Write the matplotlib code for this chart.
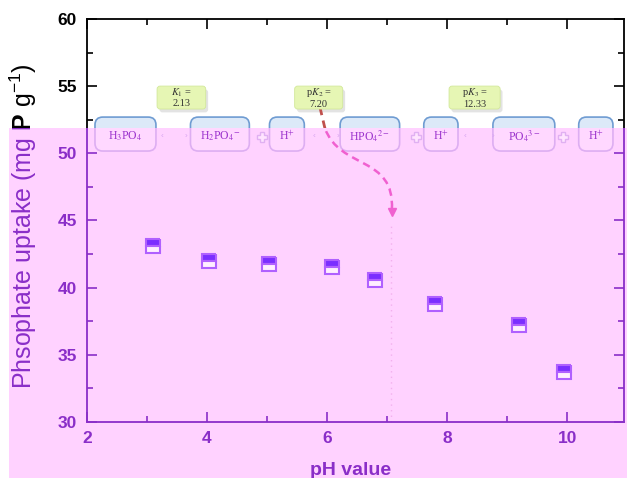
import matplotlib
matplotlib.use('Agg')
import matplotlib.pyplot as plt
from matplotlib.patches import Rectangle, FancyBboxPatch, PathPatch
from matplotlib.path import Path
from matplotlib.ticker import MultipleLocator
from matplotlib.transforms import Bbox, TransformedBbox

plt.rcParams['font.family'] = ['Liberation Sans', 'DejaVu Sans']
plt.rcParams['mathtext.fontset'] = 'custom'
plt.rcParams['mathtext.rm'] = 'Liberation Sans'
plt.rcParams['mathtext.it'] = 'Liberation Sans:italic'
plt.rcParams['mathtext.bf'] = 'Liberation Sans:bold'

# ---------------- data ----------------
ph_values = [3.10, 4.04, 5.03, 6.08, 6.80, 7.80, 9.19, 9.95]
uptake_values = [43.11, 41.95, 41.74, 41.54, 40.58, 38.79, 37.23, 33.67]
x_tick_values = [2, 4, 6, 8, 10]
y_tick_values = [30, 35, 40, 45, 50, 55, 60]
species_labels = ['H$_3$PO$_4$', 'H$_2$PO$_4$$^{-}$', 'H$^{+}$', 'HPO$_4$$^{2-}$',
                  'H$^{+}$', 'PO$_4$$^{3-}$', 'H$^{+}$']
pka_labels = ['$K_1$ =\n2.13', 'p$K_2$ =\n7.20', 'p$K_3$ =\n12.33']
x_label = 'pH value'
y_label = 'Phsophate uptake (mg $\\mathbf{P}$ g$^{-1}$)'

# ---------------- layout of annotations ----------------
species_x = [2.644, 4.216, 5.331, 6.712, 7.894, 9.275, 10.473]
species_w = [1.015, 0.98, 0.58, 0.99, 0.57, 1.03, 0.57]
box_y0, box_y1, box_text_y = 50.17, 52.70, 51.25
lt_x = [3.26, 5.78, 8.30]
gt_x = [3.65, 6.18, 8.76]
plus_x = [4.92, 7.48, 9.92]
pka_x0 = [3.17, 5.46, 8.03]
pka_x1 = [3.98, 6.26, 8.88]
pka_y0, pka_y1 = 53.30, 55.01
arrow_verts = [(5.880, 53.45), (5.963, 51.88), (6.213, 48.76), (7.128, 49.87), (7.078, 45.80)]
arrow_codes = [Path.MOVETO, Path.LINETO, Path.CURVE4, Path.CURVE4, Path.CURVE4]
guide_x = 7.07

PINK = '#FFD2FF'
PURPLE = '#8A2EC8'
ASPECT = 4.48

fig = plt.figure(figsize=(6.27, 4.78), dpi=100)
fig.patch.set_facecolor('white')
pos = [0.1384, 0.1178, 0.8576, 0.8422]


def style_axes(ax, color):
    ax.set_xlim(2, 10.95)
    ax.set_ylim(30, 60)
    ax.set_xticks(x_tick_values)
    ax.set_xticklabels([str(v) for v in x_tick_values], fontweight='bold')
    ax.set_yticks(y_tick_values)
    ax.set_yticklabels([str(v) for v in y_tick_values], fontweight='bold')
    ax.xaxis.set_minor_locator(MultipleLocator(1))
    ax.yaxis.set_minor_locator(MultipleLocator(2.5))
    ax.tick_params(which='both', direction='in', top=True, right=True,
                   color=color, labelcolor=color, width=1.2, labelsize=12.5)
    ax.tick_params(which='major', length=7)
    ax.tick_params(axis='x', which='major', pad=7)
    ax.tick_params(axis='y', which='major', pad=7)
    ax.tick_params(which='minor', length=4)
    for s in ax.spines.values():
        s.set_color(color)
        s.set_linewidth(1.3)
    ax.set_ylabel(y_label, fontsize=18, color=color)
    ax.yaxis.set_label_coords(-0.089, 0.485)
    ax.set_xlabel(x_label, fontsize=14, fontweight='bold', color=color)
    ax.xaxis.set_label_coords(0.49, -0.1)


def species_boxes(ax, face, edge, textcolor):
    for cx, w, lab in zip(species_x, species_w, species_labels):
        b = FancyBboxPatch((cx - w / 2, box_y0), w, box_y1 - box_y0,
                           boxstyle='round,pad=0,rounding_size=0.13',
                           mutation_aspect=ASPECT, fc=face, ec=edge, lw=1.2, zorder=3)
        ax.add_patch(b)
        if textcolor is not None:
            ax.text(cx, box_text_y, lab, ha='center', va='center', fontsize=8.5,
                    color=textcolor, family='Liberation Serif', math_fontfamily='stix', zorder=4)


# ---------------- layer 1: original (black) ----------------
ax1 = fig.add_axes(pos, zorder=0)
ax1.set_facecolor('white')
style_axes(ax1, 'black')
species_boxes(ax1, '#DCE9F8', '#6F9CD2', None)
for x0, x1, lab in zip(pka_x0, pka_x1, pka_labels):
    sh = FancyBboxPatch((x0 + 0.04, pka_y0 - 0.25), x1 - x0, pka_y1 - pka_y0,
                        boxstyle='round,pad=0,rounding_size=0.05', mutation_aspect=ASPECT,
                        fc='#C8C8C8', ec='none', alpha=0.5, zorder=3)
    ax1.add_patch(sh)
    gb = FancyBboxPatch((x0, pka_y0), x1 - x0, pka_y1 - pka_y0,
                        boxstyle='round,pad=0,rounding_size=0.05', mutation_aspect=ASPECT,
                        fc='#E6F6B4', ec='#D2E89A', lw=0.6, zorder=4)
    ax1.add_patch(gb)
    ax1.text((x0 + x1) / 2, (pka_y0 + pka_y1) / 2, lab, ha='center', va='center',
             fontsize=7.5, color='#333333', family='Liberation Serif',
             math_fontfamily='stix', linespacing=1.05, zorder=5)
ax1.add_patch(PathPatch(Path(arrow_verts, arrow_codes), fill=False, ec='#C0504D',
                        lw=2.0, ls=(0, (3, 2)), zorder=3))

# ---------------- pink overlay ----------------
rect_fig = [0.0144, 0.0, 0.9856, 0.7322]
overlay = Rectangle((rect_fig[0], rect_fig[1]), rect_fig[2], rect_fig[3],
                    transform=fig.transFigure, fc=PINK, ec='none', zorder=1)
fig.add_artist(overlay)

# ---------------- layer 2: recoloured (purple) ----------------
ax2 = fig.add_axes(pos, zorder=2)
ax2.patch.set_visible(False)
style_axes(ax2, PURPLE)
species_boxes(ax2, '#FFD8FF', '#DDAEF2', '#9A30CC')
for x in lt_x:
    ax2.text(x, box_text_y, '\u2039', ha='center', va='center', fontsize=6, color='#D7A4F0')
for x in gt_x:
    ax2.text(x, box_text_y, '\u203a', ha='center', va='center', fontsize=6, color='#D7A4F0')
ax2.plot(plus_x, [box_text_y] * len(plus_x), ls='none', marker='P', ms=7,
         mfc='#FFE4FF', mec='#E0B0F2', mew=1.0, zorder=4)
ax2.add_patch(PathPatch(Path(arrow_verts, arrow_codes), fill=False, ec='#F060D0',
                        lw=1.8, ls=(0, (3, 2)), zorder=3))
ax2.plot([arrow_verts[-1][0]], [arrow_verts[-1][1] - 0.15], marker='v', ms=6,
         color='#F060D0', ls='none', zorder=3)
ax2.plot([guide_x, guide_x], [30, 44.9], ls=(0, (1, 3)), color='#F2B0EE', lw=1.0, zorder=2)
ax2.plot(ph_values, uptake_values, ls='none', marker='s', ms=10.5, fillstyle='top',
         mfc='#7B2EFF', mfcalt='#FFEEFF', mec='#B060FF', mew=1.5, zorder=5)

# clip every piece of the purple layer to the pink overlay
fig.canvas.draw()
clip = TransformedBbox(Bbox.from_bounds(*rect_fig), fig.transFigure)
for art in ax2.findobj():
    if art is ax2:
        continue
    art.set_clip_path(None)
    art.set_clip_box(clip)
    art.set_clip_on(True)

fig.savefig('out.png', dpi=100)
